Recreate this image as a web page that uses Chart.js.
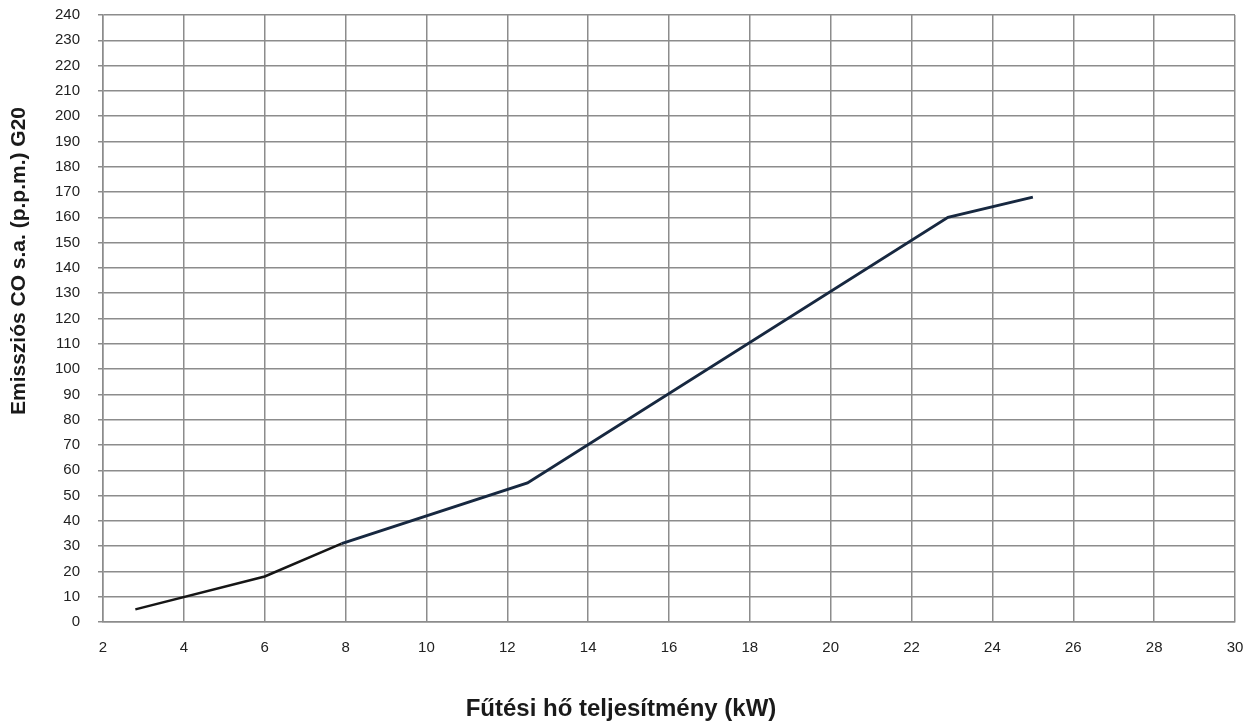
<!DOCTYPE html>
<html>
<head>
<meta charset="utf-8">
<script src="https://cdn.jsdelivr.net/npm/chart.js@4/dist/chart.umd.min.js"></script>
<style>
  html, body { margin: 0; padding: 0; background: #fff; }
  #wrap { width: 1245px; height: 723px; position: relative; }
</style>
</head>
<body>
<div id="wrap"><canvas id="c" width="1245" height="723"></canvas></div>
<script>
const powerKW = [2.8, 6, 7.9, 12.5, 22.9, 25];
const coPpm = [5, 18, 31, 55, 160, 168];
const xTitle = 'Fűtési hő teljesítmény (kW)';
const yTitle = 'Emissziós CO s.a. (p.p.m.) G20';
const xMin = 2, xMax = 30, xStep = 2;
const yMin = 0, yMax = 240, yStep = 10;

const FONT = '"Liberation Sans", Arial, sans-serif';
const GRID = '#8c8c8c';

const titlesPlugin = {
  id: 'axisTitles',
  afterDraw(chart) {
    const ctx = chart.ctx;
    ctx.save();
    ctx.fillStyle = '#1a1a1a';
    ctx.font = 'bold 24px ' + FONT;
    ctx.textAlign = 'center';
    ctx.textBaseline = 'alphabetic';
    ctx.fillText(xTitle, 621, 716);
    ctx.translate(25, 261);
    ctx.rotate(-Math.PI / 2);
    ctx.font = 'bold 21px ' + FONT;
    ctx.fillText(yTitle, 0, 0);
    ctx.restore();
  }
};

new Chart(document.getElementById('c'), {
  type: 'line',
  data: {
    datasets: [{
      data: powerKW.map((x, i) => ({ x, y: coPpm[i] })),
      borderColor: '#172840',
      borderWidth: 3,
      pointRadius: 0,
      tension: 0,
      fill: false,
      segment: {
        borderColor: c => c.p0DataIndex < 2 ? '#161616' : '#172840',
        borderWidth: c => c.p0DataIndex < 2 ? 2.5 : 3
      }
    }]
  },
  options: {
    responsive: false,
    animation: false,
    devicePixelRatio: 1,
    layout: { padding: { top: 15, right: 10, bottom: 0, left: 0 } },
    plugins: { legend: { display: false }, tooltip: { enabled: false }, title: { display: false } },
    scales: {
      x: {
        type: 'linear', min: xMin, max: xMax,
        ticks: { stepSize: xStep, color: '#222', font: { family: FONT, size: 15 }, padding: 17, maxRotation: 0 },
        grid: { color: GRID, lineWidth: 1.5, drawTicks: false },
        border: { color: GRID, width: 1.5 },
        afterFit(s) { s.height = 101; s.paddingLeft = 0; s.paddingRight = 0; }
      },
      y: {
        type: 'linear', min: yMin, max: yMax,
        ticks: { stepSize: yStep, color: '#222', font: { family: FONT, size: 15 }, padding: 18 },
        grid: { color: GRID, lineWidth: 1.5, drawTicks: true, tickLength: 5 },
        border: { color: GRID, width: 1.5 },
        afterFit(s) { s.width = 103; s.paddingTop = 0; s.paddingBottom = 0; }
      }
    }
  },
  plugins: [titlesPlugin]
});
</script>
</body>
</html>
